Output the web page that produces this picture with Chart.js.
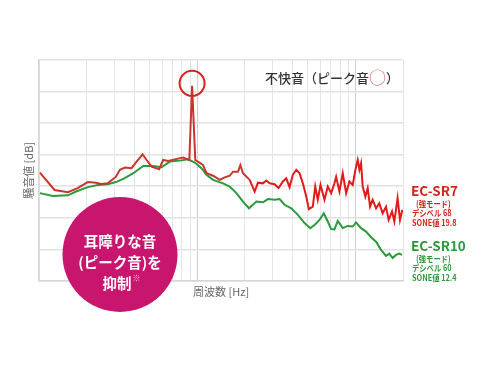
<!DOCTYPE html>
<html lang="ja">
<head>
<meta charset="utf-8">
<script src="https://cdn.jsdelivr.net/npm/chart.js@4"></script>
<style>
html, body { margin: 0; padding: 0; background: #fff; }
#wrap { width: 490px; height: 368px; }
</style>
</head>
<body>
<div id="wrap"><canvas id="noiseChart" width="490" height="368"></canvas></div>
<script>
// 周波数 [Hz] と騒音値（目盛なし、相対値）を図から読み取り
const sr7Freq = [101, 125, 152, 175, 203, 229, 246, 271, 306, 324, 349, 384, 413, 451, 478, 514, 574, 608, 654, 721,
    814, 868, 890, 927, 971, 1037, 1088, 1143, 1258, 1387, 1491, 1603, 1682, 1809, 1873, 1945, 2144, 2306, 2419, 2601,
    2733, 2867, 3083, 3267, 3477, 3654, 3833, 4022, 4226, 4434, 4651, 4887, 5075, 5378, 5569, 5783, 6015, 6374, 6687, 7026,
    7370, 7554, 7925, 8317, 8737, 9165, 9616, 10000, 10340, 10600, 10860, 11120, 11560, 11960, 12380, 12860, 13510, 14170, 14870, 15620,
    16230, 17050, 17630, 18490, 19140, 19800];
const sr7Level = [34.3, 28.8, 28.1, 29.4, 31.3, 31.1, 30.7, 30.9, 33.0, 35.2, 35.9, 35.7, 37.8, 40.1, 38.3, 36.2, 35.4, 38.3, 38.0, 38.5,
    39.1, 38.5, 38.3, 61.8, 38.3, 37.4, 36.7, 34.1, 33.3, 32.0, 32.8, 33.3, 34.6, 34.6, 36.7, 34.1, 32.0, 28.3, 31.1, 30.9,
    31.8, 30.9, 30.6, 29.4, 31.5, 32.5, 29.7, 33.6, 35.2, 34.1, 30.9, 26.7, 22.7, 23.5, 29.9, 25.7, 30.4, 25.7, 29.9, 27.8,
    30.9, 33.0, 28.3, 34.1, 27.8, 31.5, 30.4, 35.2, 38.3, 35.2, 37.3, 29.9, 26.7, 29.4, 23.5, 25.7, 23.0, 24.6, 21.4, 23.5,
    19.3, 22.0, 18.8, 26.2, 19.3, 22.5];

const sr10Freq = [101, 122, 152, 171, 203, 235, 271, 306, 345, 394, 455, 526, 594, 671, 775, 875, 964, 1063, 1143, 1258,
    1455, 1603, 1768, 1945, 2123, 2364, 2601, 2797, 3083, 3315, 3565, 3930, 4325, 4767, 5179, 5512, 5928, 6310, 6687, 7026,
    7370, 7732, 8317, 8942, 9616, 10100, 10860, 11680, 12560, 13510, 14520, 15620, 16390, 17190, 18060, 18950, 19710];
const sr10Level = [27.8, 26.9, 27.1, 28.3, 29.7, 30.4, 30.6, 31.3, 32.5, 34.1, 36.4, 36.4, 36.0, 37.8, 38.1, 38.5, 37.5, 35.7, 33.6, 32.0,
    30.9, 29.9, 27.8, 25.1, 23.0, 25.1, 24.9, 25.9, 25.7, 25.9, 24.1, 23.0, 20.9, 18.3, 16.7, 17.7, 19.3, 21.4, 18.8, 16.4,
    16.3, 19.0, 16.7, 17.4, 17.2, 18.5, 16.7, 15.6, 13.8, 12.4, 9.8, 7.9, 8.6, 7.2, 8.2, 8.6, 8.2];

// 縦グリッド（対数目盛）
const freqGrid = [100, 200, 300, 400, 500, 600, 700, 800, 900, 1000, 2000, 3000, 4000, 5000, 6000, 7000, 8000, 9000, 10000, 20000];

const sr7Notes = ['EC-SR7', '(強モード)', 'デシベル 68', 'SONE値 19.8'];
const sr10Notes = ['EC-SR10', '(強モード)', 'デシベル 60', 'SONE値 12.4'];
const badgeLines = ['耳障りな音', '(ピーク音)を', '抑制'];

const RED = '#d8241c';
const RED_DARK = '#c9352c';
const GREEN = '#2a9b3c';
const MAGENTA = '#c8156d';
const FONT = '"Noto Sans CJK JP", "Noto Sans", sans-serif';

const toPoints = (xs, ys) => xs.map((x, i) => ({ x: x, y: ys[i] }));

// 注記（ピーク円、タイトル、凡例、丸バッジ）
const overlayPlugin = {
    id: 'overlay',
    afterDatasetsDraw(chart) {
        const { ctx, chartArea, scales } = chart;
        const x = scales.x, y = scales.y;
        ctx.save();

        // ピーク音の赤丸
        const pk = sr7Level.indexOf(Math.max(...sr7Level));
        const px = x.getPixelForValue(sr7Freq[pk]);
        const py = y.getPixelForValue(sr7Level[pk]);
        ctx.strokeStyle = RED;
        ctx.lineWidth = 2;
        ctx.beginPath();
        ctx.arc(px, py - 2.5, 12.5, 0, Math.PI * 2);
        ctx.stroke();

        // 右上「不快音（ピーク音○）」
        ctx.textBaseline = 'middle';
        ctx.textAlign = 'left';
        const parts = [['不快音（ピーク音', '#333', '500 13px '], ['○', '#e06a6a', '400 17px '], ['）', '#333', '500 13px ']];
        const total = parts.reduce((s, p) => { ctx.font = p[2] + FONT; return s + ctx.measureText(p[0]).width; }, 0);
        let tx = chartArea.right - 4 - total;
        parts.forEach(p => {
            ctx.font = p[2] + FONT;
            ctx.fillStyle = p[1];
            ctx.fillText(p[0], tx, 78);
            tx += ctx.measureText(p[0]).width;
        });

        // 右側の機種ラベル（小さい行はやや詰めて描く）
        const squeezed = (text, lx, ly) => {
            ctx.save();
            ctx.translate(lx, ly);
            ctx.scale(0.86, 1);
            ctx.fillText(text, 0, 0);
            ctx.restore();
        };
        const drawNotes = (lines, color, top) => {
            ctx.fillStyle = color;
            ctx.font = 'bold 13.5px ' + FONT;
            ctx.fillText(lines[0], 411, top);
            ctx.font = 'bold 8.5px ' + FONT;
            squeezed(lines[1], 416, top + 12.5);
            squeezed(lines[2], 412, top + 22);
            squeezed(lines[3], 412, top + 31.5);
        };
        drawNotes(sr7Notes, RED, 191);
        drawNotes(sr10Notes, GREEN, 246);

        // 丸バッジ
        ctx.fillStyle = MAGENTA;
        ctx.beginPath();
        ctx.arc(120, 254.5, 57.5, 0, Math.PI * 2);
        ctx.fill();
        ctx.fillStyle = '#fff';
        ctx.textAlign = 'center';
        ctx.font = 'bold 14.5px ' + FONT;
        ctx.fillText(badgeLines[0], 120, 241);
        ctx.fillText(badgeLines[1], 120, 262);
        ctx.fillText(badgeLines[2], 117, 283);
        const w = ctx.measureText(badgeLines[2]).width;
        ctx.font = 'bold 8px ' + FONT;
        ctx.fillStyle = 'rgba(255,255,255,0.75)';
        ctx.textAlign = 'left';
        ctx.fillText('※', 117 + w / 2 + 1, 278);

        ctx.restore();
    }
};

new Chart(document.getElementById('noiseChart'), {
    type: 'line',
    data: {
        datasets: [
            {
                label: 'EC-SR7',
                data: toPoints(sr7Freq, sr7Level),
                borderColor: RED,
                // 低域はやや暗い赤、高域は明るい赤
                segment: { borderColor: c => c.p0.parsed.x < 2000 ? RED_DARK : '#e31a1a' },
                borderWidth: 2,
                pointRadius: 0,
                tension: 0,
                order: 1
            },
            {
                label: 'EC-SR10',
                data: toPoints(sr10Freq, sr10Level),
                borderColor: GREEN,
                borderWidth: 2,
                pointRadius: 0,
                tension: 0,
                order: 2
            }
        ]
    },
    options: {
        responsive: false,
        devicePixelRatio: 1,
        animation: false,
        layout: { padding: { left: 18, top: 60, right: 87, bottom: 66 } },
        plugins: {
            legend: { display: false },
            tooltip: { enabled: false }
        },
        scales: {
            x: {
                type: 'logarithmic',
                min: 100,
                max: 20000,
                afterBuildTicks: (scale) => { scale.ticks = freqGrid.map(v => ({ value: v })); },
                ticks: { display: false },
                grid: {
                    drawTicks: false,
                    color: (c) => (c.tick && (c.tick.value === 1000 || c.tick.value === 10000)) ? '#cfcfcf' : '#e6e6e6',
                    lineWidth: 1
                },
                border: { color: '#d6d6d6', width: 1.5 },
                title: {
                    display: true,
                    text: '周波数 [Hz]',
                    color: '#666',
                    font: { family: FONT, size: 11 }
                }
            },
            y: {
                min: 0,
                max: 70,
                ticks: { display: false, stepSize: 10 },
                grid: { drawTicks: false, color: '#e2e2e2', lineWidth: 1.5 },
                border: { color: '#d6d6d6', width: 1.5 },
                title: {
                    display: true,
                    text: '騒音値 [dB]',
                    color: '#666',
                    font: { family: FONT, size: 11 }
                }
            }
        }
    },
    plugins: [overlayPlugin]
});
</script>
</body>
</html>
